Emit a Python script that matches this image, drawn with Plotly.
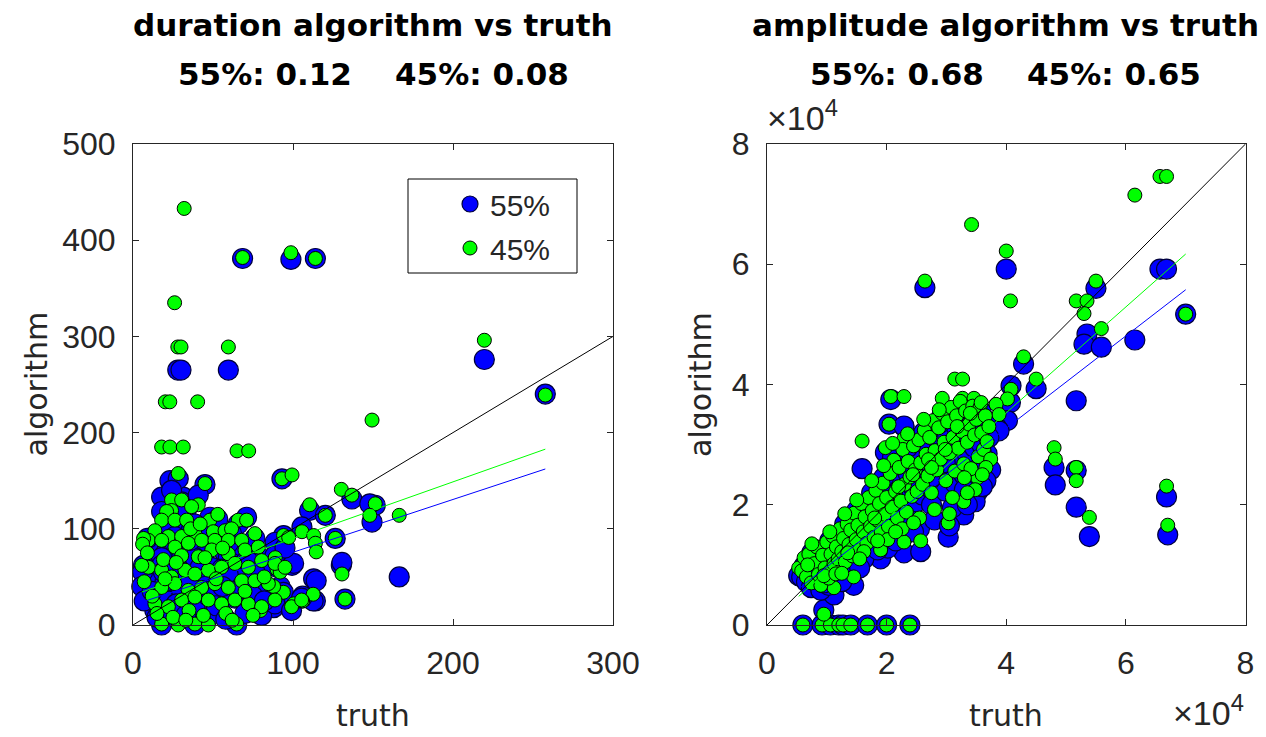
import plotly.graph_objects as go

# ---------------- data: duration (left panel) ----------------
# isolated / outlying events
dur_truth_o = [32, 68.5, 98.7, 114, 26, 28, 30, 59.6, 219.6, 257.7,
               20.2, 23, 40.4, 149.4, 17.9, 23.1, 31.4, 65, 72.3, 28.3,
               93.1, 99.4, 45, 130.2, 136.8, 110.4, 120.2, 151.4, 148, 166.4,
               126.4, 130.6, 132.5, 94.1, 97.3, 105.6, 112.9, 114, 114.5, 90,
               92, 112.6, 88.9, 100.4, 94, 87.9, 106, 79.6]
dur_55_o = [62, 381, 380, 381, 98, 265, 265, 265, 276, 240,
            66, 48, 35, 107, 133, 150, 133, 45, 22, 152,
            152, 62, 146, 62, 131, 119, 114, 124.5, 126, 50,
            90, 65, 27, 93, 65, 102, 48, 25, 46, 60,
            40, 25, 86, 64, 34, 18, 30, 15]
dur_45_o = [433, 382, 387, 381, 335, 289, 289, 289, 296, 239,
            232, 232, 232, 213, 185, 185, 185, 181, 181, 157.5,
            152, 156, 147, 141, 135, 125, 114, 126, 114, 114,
            90, 53, 27, 93, 91, 97, 93, 85, 76, 58,
            55, 32, 70, 22, 34, 40, 25, 15]
# dense cluster
dur_truth_c = [24.1, 30.4, 40.8, 36.6, 24.1, 21, 48.1, 17.9, 26.2, 33.5,
               65.8, 71, 13.7, 22.1, 30.4, 38.7, 50.2, 57.5, 61.6, 9.6,
               17.9, 26.2, 34.6, 42.9, 51.2, 59.6, 67.9, 76.2, 30.4, 40.8,
               49.2, 59.6, 70, 78.3, 9.6, 17.9, 24.1, 32.5, 38.7, 47.1,
               55.4, 63.7, 72.1, 80.4, 88.7, 95, 17.9, 26.2, 34.6, 42.9,
               51.2, 59.6, 67.9, 76.2, 84.6, 13.7, 22.1, 30.4, 38.7, 47.1,
               55.4, 63.7, 72.1, 80.4, 88.7, 99.1, 105.4, 17.9, 28.3, 38.7,
               47.1, 64.8, 6.6, 6, 5.5, 7, 9, 15, 20, 25,
               35, 44, 52, 58, 62, 70, 75, 82, 12, 19,
               27, 45, 53, 36, 42, 56, 33]
dur_55_c = [110, 128, 135, 100, 140, 95, 112, 118, 85, 120,
            105, 112, 80, 100, 70, 105, 88, 75, 95, 85,
            70, 92, 60, 80, 95, 70, 82, 90, 65, 78,
            60, 85, 65, 72, 48, 62, 40, 55, 70, 45,
            58, 50, 66, 55, 72, 80, 30, 50, 28, 45,
            35, 52, 40, 55, 38, 15, 25, 35, 18, 30,
            12, 28, 20, 10, 22, 15, 28, 0, 5, 0,
            8, 0, 62, 55, 40, 25, 90, 8, 45, 12,
            42, 55, 20, 6, 35, 12, 30, 25, 35, 55,
            22, 95, 110, 88, 60, 40, 10]
dur_45_c = [130, 130, 125, 123, 119, 118, 109, 109, 109, 109,
            109, 109, 98, 92, 92, 95, 97, 98, 100, 88,
            88, 81, 85, 88, 88, 88, 88, 95, 72, 71,
            78, 74, 78, 81, 60, 57, 50, 57, 53, 57,
            60, 64, 60, 67, 64, 60, 39, 43, 36, 39,
            43, 39, 46, 46, 43, 22, 19, 26, 29, 26,
            22, 26, 22, 19, 26, 19, 26, 1, 0, 1,
            0, 1, 90, 84, 62, 45, 75, 12, 48, 8,
            15, 10, 48, 12, 5, 35, 10, 50, 30, 68,
            65, 70, 115, 100, 105, 80, 5]
dur_fit55 = [0.549, 20.7]   # slope, intercept
dur_fit45 = [0.589, 31.0]
dur_xticks = [0, 100, 200, 300]
dur_yticks = [0, 100, 200, 300, 400, 500]

# ---------------- data: amplitude (right panel), units of 1e4 ----------------
amp_truth_o = [6.57, 6.68, 6.15, 3.42, 4.00, 4.07, 2.64, 5.50, 5.17, 5.35,
               5.30, 5.59, 7.00, 4.29, 3.14, 3.27, 4.08, 4.50, 4.02, 3.83,
               2.07, 2.29, 1.59, 4.80, 4.82, 5.17, 5.17, 5.39, 6.68, 6.70,
               3.88, 3.29, 3.03, 1.98, 2.04, 2.29, 2.93, 3.27, 3.46, 0.60,
               0.92, 1.06, 1.20, 1.27, 1.40, 1.68, 2.00, 2.39, 0.95, 1.12,
               1.45, 1.90, 2.29, 2.57, 3.52, 3.63, 0.53]
amp_55_o = [5.92, 5.92, 4.74, 3.10, 5.92, 3.70, 5.61, 5.60, 3.73, 4.84,
            4.67, 4.62, 5.17, 4.34, 2.90, 3.20, 3.98, 3.93, 3.40, 3.30,
            3.75, 3.30, 2.60, 2.62, 2.33, 2.57, 1.96, 1.47, 2.13, 1.50,
            3.23, 1.83, 1.46, 2.87, 3.34, 3.31, 3.50, 3.40, 3.60, 0,
            0, 0, 0, 0, 0, 0, 0, 0, 0.25, 0.50,
            0.66, 1.10, 1.20, 1.22, 2.21, 2.65, 0.82]
amp_45_o = [7.46, 7.46, 7.15, 6.66, 6.22, 5.39, 5.72, 5.72, 5.39, 5.39,
            5.18, 4.93, 5.17, 4.46, 4.09, 4.09, 3.92, 4.09, 3.76, 3.67,
            3.80, 3.80, 3.06, 2.95, 2.76, 2.62, 2.40, 1.79, 2.31, 1.66,
            3.50, 2.05, 1.70, 2.95, 3.34, 3.10, 3.77, 3.77, 3.77, 0,
            0, 0, 0, 0, 0, 0, 0, 0, 0.18, 0.62,
            0.80, 1.25, 1.38, 1.40, 2.45, 2.90, 0.95]
amp_truth_c = [0.58, 0.62, 0.66, 0.70, 0.74, 0.79, 0.83, 0.86, 0.90, 0.93,
               0.97, 1.00, 1.03, 1.07, 1.10, 1.12, 1.16, 1.19, 1.22, 1.25,
               1.28, 1.31, 1.34, 1.37, 1.40, 1.43, 1.46, 1.49, 1.52, 1.55,
               1.58, 1.61, 1.64, 1.67, 1.70, 1.73, 1.76, 1.79, 1.82, 1.85,
               1.88, 1.91, 1.94, 1.97, 2.00, 2.03, 2.06, 2.09, 2.12, 2.15,
               2.18, 2.21, 2.24, 2.27, 2.30, 2.33, 2.36, 2.39, 2.42, 2.45,
               2.48, 2.51, 2.54, 2.57, 2.60, 2.63, 2.66, 2.69, 2.72, 2.75,
               2.78, 2.81, 2.84, 2.87, 2.90, 2.93, 2.96, 2.99, 3.02, 3.05,
               3.08, 3.11, 3.14, 3.17, 3.20, 3.23, 3.26, 3.29, 3.32, 3.35,
               3.38, 3.41, 3.44, 3.47, 3.50, 3.53, 3.56, 3.59, 3.62, 3.65,
               3.68, 3.71, 3.74]
amp_55_c = [0.80, 0.98, 0.72, 1.05, 0.62, 0.90, 1.15, 0.74, 0.58, 1.02,
            0.86, 1.22, 0.66, 1.05, 1.32, 0.88, 1.18, 0.98, 1.45, 1.08,
            1.30, 0.92, 1.55, 1.20, 1.42, 1.02, 1.70, 1.28, 1.52, 1.12,
            1.86, 1.38, 1.62, 1.20, 1.96, 1.48, 1.74, 1.30, 2.06, 1.58,
            1.86, 1.40, 2.18, 1.66, 1.94, 1.50, 2.32, 1.78, 2.55, 2.04,
            1.62, 2.40, 1.86, 2.70, 2.14, 1.72, 2.52, 2.26, 1.95, 2.78,
            2.38, 2.05, 2.88, 2.50, 2.16, 3.02, 2.62, 2.30, 2.92, 2.00,
            3.18, 2.70, 2.40, 3.06, 2.55, 3.30, 2.82, 2.22, 3.16, 2.64,
            3.42, 2.90, 2.36, 3.28, 2.74, 3.52, 3.02, 2.50, 3.36, 2.84,
            3.12, 2.40, 3.45, 2.95, 3.22, 2.60, 3.40, 3.00, 2.72, 3.28,
            2.85, 3.12, 2.58]
amp_45_c = [0.90, 1.12, 0.80, 1.18, 0.70, 1.02, 1.30, 0.84, 0.66, 1.16,
            0.95, 1.38, 0.78, 1.18, 1.48, 1.02, 1.30, 1.10, 1.60, 1.22,
            1.44, 1.05, 1.68, 1.34, 1.58, 1.15, 1.86, 1.42, 1.66, 1.25,
            2.02, 1.55, 1.80, 1.36, 2.12, 1.64, 1.90, 1.46, 2.24, 1.74,
            2.02, 1.55, 2.36, 1.84, 2.12, 1.64, 2.52, 1.96, 2.74, 2.22,
            1.78, 2.62, 2.06, 2.92, 2.34, 1.88, 2.72, 2.46, 2.14, 2.98,
            2.58, 2.22, 3.08, 2.70, 2.34, 3.24, 2.84, 2.48, 3.12, 2.20,
            3.40, 2.90, 2.58, 3.28, 2.76, 3.52, 3.04, 2.40, 3.38, 2.86,
            3.62, 3.12, 2.56, 3.48, 2.94, 3.72, 3.22, 2.68, 3.56, 3.04,
            3.34, 2.60, 3.64, 3.16, 3.42, 2.80, 3.62, 3.20, 2.92, 3.48,
            3.05, 3.30, 2.76]
# extra cluster events filling the band
amp_truth_x = [0.68, 0.95, 1.05, 1.15, 1.30, 1.35, 1.50, 1.62, 1.75, 1.80,
               1.95, 2.02, 2.10, 2.20, 2.26, 2.35, 2.44, 2.55, 2.62, 2.70,
               2.80, 2.88, 2.98, 3.10, 3.18, 3.30, 3.40, 3.48, 3.58, 3.66,
               1.25, 1.55, 1.85, 2.15, 2.45, 2.75, 3.05, 3.35, 3.60, 0.75]
amp_55_x = [0.88, 0.70, 1.40, 0.75, 1.68, 1.05, 1.90, 1.10, 2.20, 1.62,
            2.45, 1.28, 2.80, 2.10, 1.45, 2.95, 2.30, 1.60, 3.20, 2.55,
            1.75, 3.35, 2.70, 1.95, 3.10, 2.25, 3.30, 2.05, 3.55, 2.40,
            0.72, 0.95, 1.25, 1.40, 1.55, 2.45, 1.65, 2.00, 2.30, 1.20]
amp_45_x = [1.00, 0.82, 1.55, 0.85, 1.85, 1.20, 2.08, 1.22, 2.40, 1.78,
            2.65, 1.42, 3.02, 2.30, 1.60, 3.18, 2.50, 1.78, 3.42, 2.75,
            1.92, 3.58, 2.92, 2.12, 3.30, 2.45, 3.52, 2.25, 3.70, 2.62,
            0.86, 1.10, 1.40, 1.55, 1.70, 2.62, 1.85, 2.20, 2.50, 1.35]
amp_fit55 = [0.768, 0.20]
amp_fit45 = [0.88, 0.01]
amp_ticks = [0, 2, 4, 6, 8]

titles = ["duration algorithm vs truth", "amplitude algorithm vs truth"]
subtitles = [("55%: 0.12", "45%: 0.08"), ("55%: 0.68", "45%: 0.65")]
series_names = ["55%", "45%"]

# ---------------- assemble ----------------
dur_truth = dur_truth_o + dur_truth_c
dur_55 = dur_55_o + dur_55_c
dur_45 = dur_45_o + dur_45_c
amp_truth = amp_truth_o + amp_truth_c + amp_truth_x
amp_55 = amp_55_o + amp_55_c + amp_55_x
amp_45 = amp_45_o + amp_45_c + amp_45_x

W, H = 1266, 737
def fx(p):
    return p / W
def fy(p):
    return (H - p) / H

BLUE, GREEN = "#0000ff", "#00ff00"
TXT = "#262626"
TICKFONT = dict(family="Arial, Liberation Sans", size=32, color=TXT)
LABELFONT = dict(family="DejaVu Sans", size=30, color=TXT)
TITLEFONT = dict(family="DejaVu Sans", size=31, color="#000000")

fig = go.Figure()

panels = [
    ("x", "y", dur_truth, dur_55, dur_45, dur_fit55, dur_fit45, [dur_xticks[0], dur_xticks[-1]], True),
    ("x2", "y2", amp_truth, amp_55, amp_45, amp_fit55, amp_fit45, [amp_ticks[0], amp_ticks[-1]], False),
]
for xa, ya, tr, a55, a45, f55, f45, rng, show in panels:
    fig.add_trace(go.Scatter(
        x=tr, y=a55, mode="markers", name=series_names[0], xaxis=xa, yaxis=ya,
        marker=dict(size=20, color=BLUE, line=dict(color="#00003a", width=1.2)),
        cliponaxis=False, showlegend=show, legendgroup="a"))
    fig.add_trace(go.Scatter(
        x=tr, y=a45, mode="markers", name=series_names[1], xaxis=xa, yaxis=ya,
        marker=dict(size=14, color=GREEN, line=dict(color="#000000", width=1)),
        cliponaxis=False, showlegend=show, legendgroup="b"))
    # identity line
    fig.add_trace(go.Scatter(x=rng, y=rng, mode="lines", xaxis=xa, yaxis=ya,
                             line=dict(color="#000000", width=1), showlegend=False,
                             hoverinfo="skip"))
    xlo, xhi = min(tr), max(tr)
    for fit, col in ((f45, GREEN), (f55, BLUE)):
        fig.add_trace(go.Scatter(
            x=[xlo, xhi], y=[fit[0] * xlo + fit[1], fit[0] * xhi + fit[1]],
            mode="lines", xaxis=xa, yaxis=ya, line=dict(color=col, width=1),
            showlegend=False, hoverinfo="skip"))

ax_common = dict(showline=True, linecolor=TXT, linewidth=1, mirror="ticks",
                 ticks="inside", ticklen=6, tickcolor=TXT, tickwidth=1,
                 showgrid=False, zeroline=False, tickfont=TICKFONT, automargin=False)
ydom = [fy(625), fy(144)]
fig.update_layout(
    template="none",
    xaxis=dict(ax_common, domain=[fx(133), fx(613)], range=[0, 300],
               tickvals=dur_xticks, anchor="y", ticklabelstandoff=10),
    yaxis=dict(ax_common, domain=ydom, range=[0, 500], tickvals=dur_yticks,
               anchor="x", ticklabelstandoff=10),
    xaxis2=dict(ax_common, domain=[fx(767), fx(1245.5)], range=[0, 8],
                tickvals=amp_ticks, anchor="y2", ticklabelstandoff=10),
    yaxis2=dict(ax_common, domain=ydom, range=[0, 8], tickvals=amp_ticks,
                anchor="x2", ticklabelstandoff=10),
)

annotations = []
centers = [373, 1006]
sp = "\u00a0" * 4
for i in range(2):
    annotations.append(dict(text="<b>" + titles[i] + "</b>", x=fx(centers[i]), y=fy(25),
                            xref="paper", yref="paper", xanchor="center", yanchor="middle",
                            showarrow=False, font=TITLEFONT))
    annotations.append(dict(text="<b>" + subtitles[i][0] + sp + subtitles[i][1] + "</b>",
                            x=fx(centers[i]), y=fy(74), xref="paper", yref="paper",
                            xanchor="center", yanchor="middle", showarrow=False, font=TITLEFONT))
    annotations.append(dict(text="truth", x=fx(centers[i]), y=fy(715), xref="paper", yref="paper",
                            xanchor="center", yanchor="middle", showarrow=False, font=LABELFONT))
for xc in (36, 700.5):
    annotations.append(dict(text="algorithm", x=fx(xc), y=fy(384.5), xref="paper", yref="paper",
                            xanchor="center", yanchor="middle", textangle=-90,
                            showarrow=False, font=LABELFONT))
SCALEFONT = dict(family="Arial, Liberation Sans", size=34, color=TXT)
annotations.append(dict(text="\u00d710<sup>4</sup>", x=fx(765), y=fy(139), xref="paper",
                        yref="paper", xanchor="left", yanchor="bottom", showarrow=False,
                        font=SCALEFONT))
annotations.append(dict(text="\u00d710<sup>4</sup>", x=fx(1246), y=fy(734), xref="paper",
                        yref="paper", xanchor="right", yanchor="bottom", showarrow=False,
                        font=SCALEFONT))

fig.update_layout(
    width=W, height=H, autosize=False,
    margin=dict(l=0, r=0, t=0, b=0, pad=0),
    paper_bgcolor="white", plot_bgcolor="white",
    annotations=annotations,
    shapes=[dict(type="rect", xref="paper", yref="paper", x0=fx(408), x1=fx(577),
                 y0=fy(273), y1=fy(179), line=dict(color="#000000", width=1),
                 fillcolor="white", layer="above")],
    showlegend=True,
    legend=dict(x=fx(450), y=fy(178), xanchor="left", yanchor="top",
                bgcolor="rgba(0,0,0,0)", borderwidth=0, traceorder="grouped",
                tracegroupgap=2, font=dict(family="Arial, Liberation Sans", size=30, color=TXT)),
)

fig.write_html("out.html")
